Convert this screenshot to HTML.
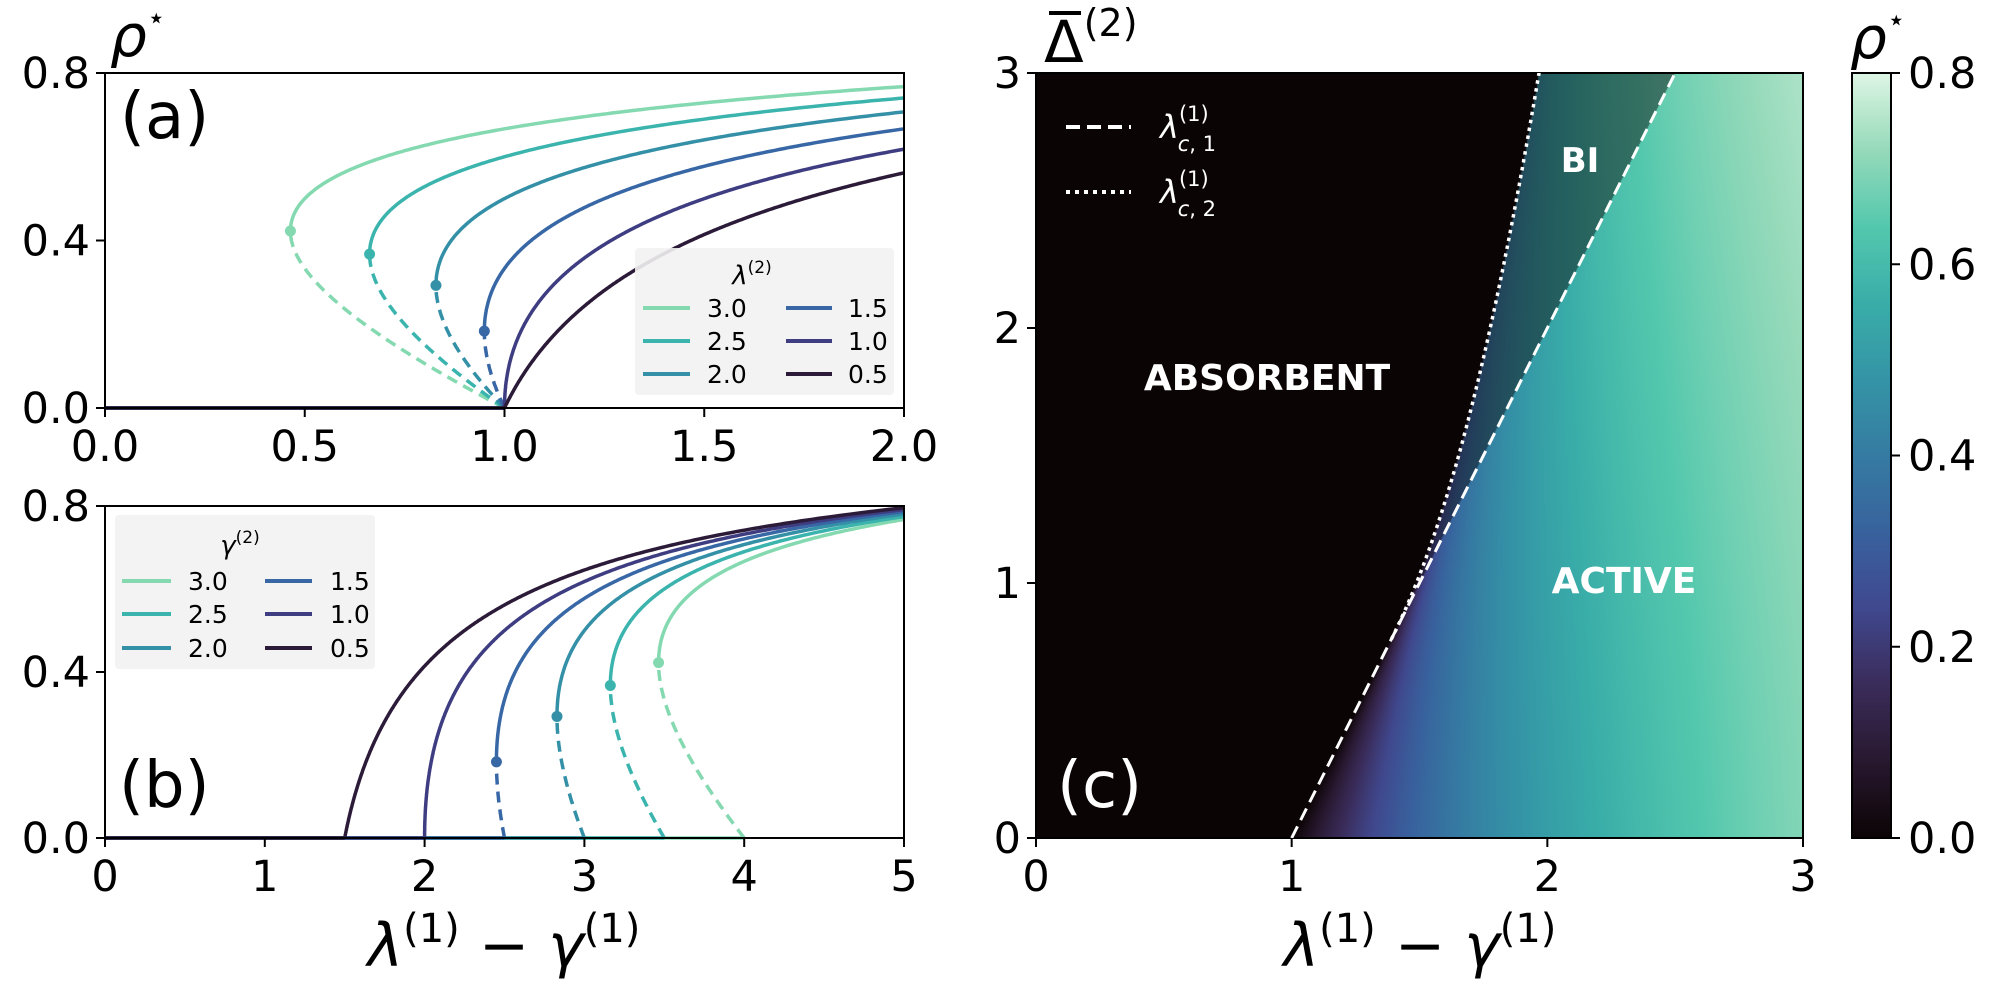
<!DOCTYPE html>
<html><head><meta charset="utf-8"><style>
html,body{margin:0;padding:0;background:#fff;width:2000px;height:991px;overflow:hidden}
#cv{position:absolute;left:1036px;top:73px}
svg{position:absolute;left:0;top:0}
text{font-family:"DejaVu Sans","Liberation Sans",sans-serif}
</style></head><body>
<canvas id="cv" width="767" height="765"></canvas>
<svg id="s" width="2000" height="991" xmlns="http://www.w3.org/2000/svg">
<defs>
<clipPath id="ca"><rect x="105" y="60" width="799" height="352"/></clipPath>
<clipPath id="cb"><rect x="105" y="490" width="799" height="352"/></clipPath>
<clipPath id="cc"><rect x="1036" y="73" width="767" height="765"/></clipPath>
<linearGradient id="cbg" x1="0" y1="1" x2="0" y2="0"></linearGradient>
</defs>
<g id="plots"></g>
</svg>
<script>
var stops=[[0,[11,4,5]],[0.1,[40,24,47]],[0.2,[58,44,90]],[0.3,[64,72,142]],[0.4,[56,98,157]],[0.5,[53,123,162]],[0.6,[52,148,166]],[0.7,[57,173,168]],[0.8,[84,200,173]],[0.9,[150,218,186]],[1,[222,245,229]]];
function mako(t){t=Math.max(0,Math.min(1,t));for(var i=1;i<stops.length;i++){if(t<=stops[i][0]){var a=stops[i-1],b=stops[i],f=(t-a[0])/(b[0]-a[0]);return [0,1,2].map(function(k){return a[1][k]+(b[1][k]-a[1][k])*f;});}}return stops[stops.length-1][1];}
function hex(c){return '#'+c.map(function(v){return ('0'+Math.round(v).toString(16)).slice(-2)}).join('');}
var cv=document.getElementById('cv'),ctx=cv.getContext('2d'),W=767,H=765,img=ctx.createImageData(W,H);
for(var j=0;j<H;j++){var D=3*(1-(j+0.5)/H),A=1+D/2,B=1.78*D;
 for(var i=0;i<W;i++){var x=3*(i+0.5)/W,c=[11,4,5],rho=null,f=1;
  var fold=B>A, xc2=fold?2*Math.sqrt(A*B)-B:A;
  if(x>=A||(fold&&x>=xc2)){
   if(B<1e-9)rho=1-A/x;else{var disc=(x-B)*(x-B)-4*B*(A-x);if(disc<0)disc=0;rho=((B-x)+Math.sqrt(disc))/(2*B);}
   rho+=0.04*D*Math.min(1,rho*4);
   rho+=0.02*Math.max(0,x-1.5);
   if(x<A)f=0.55;
   var m=mako(rho/0.8);c=[m[0]*f+11*(1-f),m[1]*f+4*(1-f),m[2]*f+5*(1-f)];}
  var p=(j*W+i)*4;img.data[p]=c[0];img.data[p+1]=c[1];img.data[p+2]=c[2];img.data[p+3]=255;}}
ctx.putImageData(img,0,0);
var out='';
function T(x,y,s,sz,anchor,extra){return '<text x="'+x+'" y="'+y+'" font-size="'+sz+'" text-anchor="'+(anchor||'start')+'" '+(extra||'')+'>'+s+'</text>';}
var cols={3:'#84d9b0',2.5:'#3bb4ae',2:'#3490a7',1.5:'#3867a6',1:'#3f3d81',0.5:'#2b1b38'};
var order=[3,2.5,2,1.5,1,0.5];
function panel(X0,Y0,sx,sy,xfun,clip){
 var s='<g clip-path="url(#'+clip+')">';
 order.forEach(function(L){var col=cols[L],rf=L>1?1-1/Math.sqrt(L):0;
  var x0=xfun(L,0);s+='<line x1="'+X0+'" y1="'+Y0+'" x2="'+(X0+x0*sx)+'" y2="'+Y0+'" stroke="'+col+'" stroke-width="3.5"/>';
  function path(a,b){var d='';for(var r=a;r<=b+1e-9;r+=0.002){var X=X0+xfun(L,r)*sx,Y=Y0-r*sy;d+=(d?'L':'M')+X.toFixed(1)+','+Y.toFixed(1);}return d;}
  if(rf>0)s+='<path d="'+path(0,rf)+'" fill="none" stroke="'+col+'" stroke-width="3.5" stroke-dasharray="11,7"/>';
  s+='<path d="'+path(rf,0.82)+'" fill="none" stroke="'+col+'" stroke-width="3.5"/>';
  if(rf>0)s+='<circle cx="'+(X0+xfun(L,rf)*sx)+'" cy="'+(Y0-rf*sy)+'" r="5.5" fill="'+col+'"/>';});
 return s+'</g>';}
out+=panel(105,408,399.5,418.75,function(L,r){return 1/(1-r)-L*r;},'ca');
out+=panel(105,838,159.8,415,function(L,r){return L+1/(1-r)-L*r;},'cb');
function frame(x,y,w,h){return '<rect x="'+x+'" y="'+y+'" width="'+w+'" height="'+h+'" fill="none" stroke="#000" stroke-width="2"/>';}
out+=frame(105,73,799,335)+frame(105,506,799,332)+frame(1036,73,767,765);
function yt(x,y,lab){return '<line x1="'+(x-9)+'" y1="'+y+'" x2="'+x+'" y2="'+y+'" stroke="#000" stroke-width="2"/>'+T(x-15,y+15,lab,43,'end');}
function xt(x,y,lab){return '<line x1="'+x+'" y1="'+y+'" x2="'+x+'" y2="'+(y+9)+'" stroke="#000" stroke-width="2"/>'+T(x,y+53,lab,43,'middle');}
[[0,'0.0'],[0.4,'0.4'],[0.8,'0.8']].forEach(function(v){out+=yt(105,408-v[0]*418.75,v[1]);out+=yt(105,838-v[0]*415,v[1]);});
['0.0','0.5','1.0','1.5','2.0'].forEach(function(l,i){out+=xt(105+i*0.5*399.5,408,l);});
for(var k=0;k<=5;k++)out+=xt(105+k*159.8,838,''+k);
for(var k=0;k<=3;k++){out+=xt(1036+k*255.67,838,''+k);out+=yt(1036,838-k*255,''+k);}
out+='<g clip-path="url(#cc)"><line x1="'+(1036+255.67)+'" y1="838" x2="'+(1036+2.5*255.67)+'" y2="73" stroke="#fff" stroke-width="3" stroke-dasharray="13,7"/>';
var d='';for(var D=0.78;D<=3.01;D+=0.01){var A=1+D/2,B=1.78*D,x=2*Math.sqrt(A*B)-B;d+=(d?'L':'M')+(1036+x*255.67).toFixed(1)+','+(838-D*255).toFixed(1);}
out+='<path d="'+d+'" fill="none" stroke="#fff" stroke-width="3.5" stroke-dasharray="3.5,4.5"/></g>';
var g='';for(var k=0;k<=20;k++){g+='<stop offset="'+(k/20)+'" stop-color="'+hex(mako(k/20))+'"/>';}
document.getElementById('cbg').innerHTML=g;
out+='<rect x="1852" y="73" width="39" height="765" fill="url(#cbg)" stroke="#000" stroke-width="2"/>';
[0,0.2,0.4,0.6,0.8].forEach(function(v){var y=838-v/0.8*765;out+='<line x1="1891" y1="'+y+'" x2="1900" y2="'+y+'" stroke="#000" stroke-width="2"/>'+T(1908,y+15,v.toFixed(1),43);});
function legend(bx,by,bw,bh,title,rows,c1h,c1t,c2h,c2t){
 var s='<rect x="'+bx+'" y="'+by+'" width="'+bw+'" height="'+bh+'" rx="4" fill="#f2f2f2" fill-opacity="0.9"/>'+title;
 [[3,1.5],[2.5,1],[2,0.5]].forEach(function(p,i){var y=rows[i];
  s+='<line x1="'+c1h[0]+'" y1="'+y+'" x2="'+c1h[1]+'" y2="'+y+'" stroke="'+cols[p[0]]+'" stroke-width="4"/>'+T(c1t,y+9,p[0].toFixed(1),25);
  s+='<line x1="'+c2h[0]+'" y1="'+y+'" x2="'+c2h[1]+'" y2="'+y+'" stroke="'+cols[p[1]]+'" stroke-width="4"/>'+T(c2t,y+9,p[1].toFixed(1),25);});
 return s;}
out+=legend(635,248,259,147,'<text x="752" y="284" font-size="26" text-anchor="middle"><tspan font-style="italic">λ</tspan><tspan font-size="17" dy="-11">(2)</tspan></text>',[308,341,374],[643,690],707,[786,832],848);
out+=legend(115,515,260,154,'<text x="240" y="554" font-size="26" text-anchor="middle"><tspan font-style="italic">γ</tspan><tspan font-size="17" dy="-11">(2)</tspan></text>',[581,614,648],[122,171],188,[265,312],330);
out+='<line x1="1066" y1="127" x2="1131" y2="127" stroke="#fff" stroke-width="4" stroke-dasharray="14,7"/>';
out+='<line x1="1066" y1="192" x2="1131" y2="192" stroke="#fff" stroke-width="4" stroke-dasharray="4,5"/>';
['1','2'].forEach(function(n,i){var y=138+i*65;out+='<text x="1160" y="'+y+'" font-size="32" fill="#fff"><tspan font-style="italic">λ</tspan><tspan font-size="21" dy="-17">(1)</tspan><tspan font-size="21" dx="-31" dy="30" font-style="italic">c</tspan><tspan font-size="21">, '+n+'</tspan></text>';});
out+=T(1267,390,'ABSORBENT',36,'middle','fill="#fff" font-weight="bold"');
out+=T(1624,593,'ACTIVE',36,'middle','fill="#fff" font-weight="bold"');
out+=T(1580,172,'BI',34,'middle','fill="#fff" font-weight="bold"');
out+='<text x="120" y="138" font-size="64" font-family="Liberation Sans,sans-serif">(a)</text>';
out+='<text x="119" y="807" font-size="64" font-family="Liberation Sans,sans-serif">(b)</text>';
out+='<text x="1057" y="807" font-size="64" font-family="Liberation Sans,sans-serif" fill="#fff">(c)</text>';
function xl(cx){return '<text x="'+cx+'" y="966" font-size="60" text-anchor="middle"><tspan font-style="italic">λ</tspan><tspan font-size="40" dy="-24">(1)</tspan><tspan dy="24"> − </tspan><tspan font-style="italic">γ</tspan><tspan font-size="40" dy="-24">(1)</tspan></text>';}
out+=xl(504)+xl(1420);
out+='<text x="110" y="56" font-size="58" font-style="italic">ρ<tspan font-size="30" font-style="normal" dy="-28">⋆</tspan></text>';
out+='<text x="1850" y="58" font-size="58" font-style="italic">ρ<tspan font-size="30" font-style="normal" dy="-28">⋆</tspan></text>';
out+='<text x="1044" y="62" font-size="58">Δ<tspan font-size="38" dy="-26">(2)</tspan></text>';
out+='<line x1="1049" y1="13" x2="1081" y2="13" stroke="#000" stroke-width="4"/>';
document.getElementById('plots').innerHTML=out;
</script>
</body></html>
